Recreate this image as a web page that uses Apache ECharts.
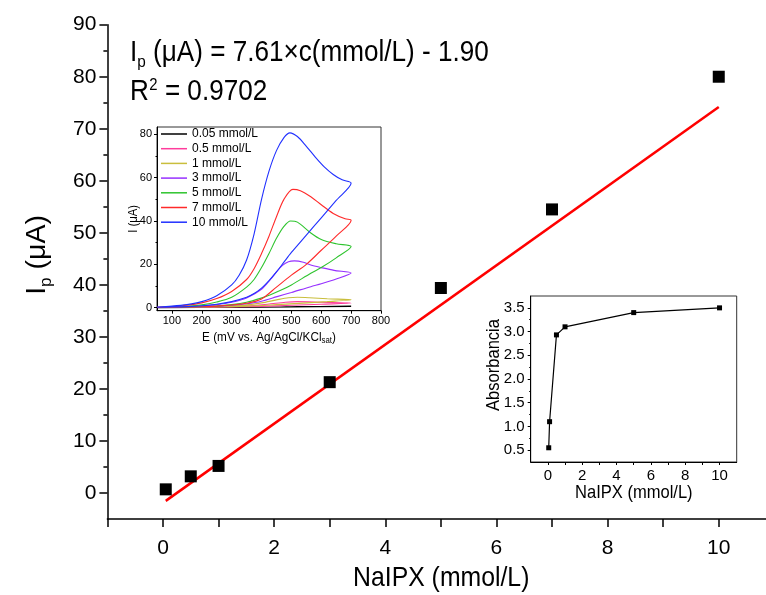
<!DOCTYPE html>
<html><head><meta charset="utf-8">
<script src="https://cdn.jsdelivr.net/npm/echarts@6/dist/echarts.min.js"></script>
<style>html,body{margin:0;padding:0;background:#fff}#c{width:766px;height:595px}</style>
</head><body><div id="c"></div>
<script>
// ---- main calibration data ----
const concentrations = [0.05, 0.5, 1, 3, 5, 7, 10];
const peakCurrents = [0.7, 3.2, 5.2, 21.3, 39.4, 54.5, 80.0];
const fitX = [0.05, 10];
const fitY = [-1.52, 74.2];
const mainXTicks = [-1, 0, 1, 2, 3, 4, 5, 6, 7, 8, 9, 10];
const mainXLabels = [0, 2, 4, 6, 8, 10];
const mainYLabels = [0, 10, 20, 30, 40, 50, 60, 70, 80, 90];
const mainYMinor = [5, 15, 25, 35, 45, 55, 65, 75, 85];

// ---- inset: cyclic voltammograms [E (mV), I (uA)] ----
const cvNames = ['0.05 mmol/L', '0.5 mmol/L', '1 mmol/L', '3 mmol/L', '5 mmol/L', '7 mmol/L', '10 mmol/L'];
const cvColors = ['#000000', '#ff3c9c', '#c9be3c', '#9630ff', '#2ec42e', '#ff2a2a', '#2030ff'];
const cv005 = [[50,0],[300,0.1],[450,0.3],[520,0.5],[700,0.6],[500,0.35],[300,0.1],[50,0]];
const cv05 = [[50,0.05],[200,0.2],[350,0.8],[420,1.6],[480,2.5],[520,2.8],[600,2.5],[700,2.1],
  [600,1.6],[500,1.1],[400,0.6],[300,0.3],[150,0.1],[50,0.05]];
const cv1 = [[50,0.05],[150,0.2],[250,0.5],[350,1.3],[400,2.2],[450,3.6],[490,4.6],[520,4.8],[560,4.6],[620,4.1],[700,3.6],
  [620,2.8],[540,2.1],[450,1.4],[350,0.7],[250,0.3],[150,0.15],[50,0.05]];
const cv3 = [[50,0.1],[100,0.2],[150,0.4],[200,0.8],[250,1.4],[300,2.5],[350,4.5],[400,8.5],[430,13],[450,16.5],[470,19.5],
  [490,21.2],[510,21.6],[540,21],[565,19.7],[600,18.5],[643,17.2],[700,16],
  [650,13.2],[600,11],[565,9.7],[500,7],[452,5.1],[400,3],[350,1.8],[300,1.1],[250,0.6],[200,0.35],[100,0.15],[50,0.1]];
const cv5 = [[50,0.1],[100,0.3],[150,0.6],[200,1.3],[250,2.6],[300,4.8],[350,9.5],[375,13],[400,18.5],[425,25],[450,32],
  [475,37.5],[497,40],[520,39.5],[565,34.5],[600,31.5],[650,29.5],[700,28.2],
  [650,23],[600,18.5],[565,15.9],[500,10.5],[464,8],[430,6],[396,4.3],[350,2.5],[300,1.4],[250,0.8],[200,0.4],[100,0.2],[50,0.1]];
const cv7 = [[50,0.2],[100,0.5],[150,1.1],[200,2.2],[250,4.2],[300,7.5],[350,13],[375,18],[400,25],[425,33],[450,42],
  [475,50],[505,54.6],[530,54],[565,51.2],[600,47.5],[640,43.5],[680,41],[700,40.4],
  [650,33],[600,26.5],[550,20],[500,15],[450,9.5],[400,4],[350,2],[300,1.2],[250,0.7],[200,0.4],[150,0.3],[50,0.1]];
const cv10 = [[50,0.3],[100,0.7],[150,1.4],[200,2.8],[250,5.5],[300,10.5],[325,15],[350,22],[375,34],[400,50],[425,63],
  [450,72.5],[475,78.5],[495,80.7],[520,79],[550,74.5],[580,69.5],[610,65],[640,61.5],[670,59],[700,57.5],
  [650,49.5],[600,41.5],[550,33.5],[500,25.5],[475,21],[450,16.5],[425,12.5],[400,9],[375,6.5],[350,4.8],[300,2.8],
  [250,1.6],[200,0.9],[150,0.5],[100,0.3],[50,0.2]];
const cvData = [cv005, cv05, cv1, cv3, cv5, cv7, cv10];
const cvXLabels = [100, 200, 300, 400, 500, 600, 700, 800];
const cvYLabels = [0, 20, 40, 60, 80];
const cvYMinor = [10, 30, 50, 70];

// ---- inset: absorbance ----
const absConc = [0.05, 0.1, 0.5, 1, 5, 10];
const absValues = [0.55, 1.1, 2.93, 3.1, 3.4, 3.5];
const absXTicks = [0, 1, 2, 3, 4, 5, 6, 7, 8, 9, 10];
const absXLabels = [0, 2, 4, 6, 8, 10];
const absYLabels = [0.5, 1.0, 1.5, 2.0, 2.5, 3.0, 3.5];
const absYMinor = [0.75, 1.25, 1.75, 2.25, 2.75, 3.25];

const F = "'Liberation Sans', Arial, sans-serif";
const SX = 0.87;

function txt(x, y, text, size, extra) {
  return Object.assign({ type: 'text', x: x, y: y,
    style: { text: text, fontSize: size, fontFamily: F, fill: '#000', align: 'left', verticalAlign: 'middle' } }, extra || {});
}

const chart = echarts.init(document.getElementById('c'), null, { renderer: 'canvas' });

const axisBase = (w) => ({ axisLine: { onZero: false, lineStyle: { color: '#000', width: w } }, splitLine: { show: false } });

const option = {
  animation: false,
  backgroundColor: '#fff',
  grid: [
    { left: 107.4, top: 24.7, right: 0, height: 494.3 },
    { left: 157, top: 127, width: 224, height: 183.7, show: true, borderColor: '#333', borderWidth: 1 },
    { left: 530.7, top: 296, width: 206, height: 166, show: true, borderColor: '#333', borderWidth: 1 }
  ],
  legend: {
    data: cvNames.map(n => ({ name: n, icon: 'rect' })), orient: 'vertical', left: 161, top: 128, padding: 0,
    itemWidth: 26, itemHeight: 1.5, itemGap: 2.7,
    textStyle: { fontSize: 12, fontFamily: F, color: '#000', padding: [0, 0, 0, 0] }
  },
  xAxis: [
    Object.assign(axisBase(1.5), { gridIndex: 0, type: 'value', min: -1, max: 10.85,
      axisTick: { customValues: mainXTicks, length: 8, lineStyle: { color: '#000', width: 1.5 } },
      axisLabel: { customValues: mainXLabels, fontSize: 21, fontFamily: F, color: '#000', margin: 19 } }),
    Object.assign(axisBase(1), { gridIndex: 1, type: 'value', min: 50, max: 800,
      axisTick: { customValues: cvXLabels, length: 3, lineStyle: { color: '#000' } },
      axisLabel: { customValues: cvXLabels, fontSize: 11, fontFamily: F, color: '#000', margin: 5 } }),
    Object.assign(axisBase(1), { gridIndex: 2, type: 'value', min: -1, max: 11,
      axisTick: { customValues: absXTicks, length: 3, lineStyle: { color: '#000' } },
      axisLabel: { customValues: absXLabels, fontSize: 15, fontFamily: F, color: '#000', margin: 6 } })
  ],
  yAxis: [
    Object.assign(axisBase(1.5), { gridIndex: 0, type: 'value', min: -5, max: 90,
      axisTick: { customValues: mainYLabels, length: 8, lineStyle: { color: '#000', width: 1.5 } },
      axisLabel: { customValues: mainYLabels, fontSize: 21, fontFamily: F, color: '#000', margin: 11 } }),
    { gridIndex: 0, type: 'value', min: -5, max: 90, position: 'left', splitLine: { show: false },
      axisLine: { show: false, onZero: false }, axisLabel: { show: false },
      axisTick: { customValues: mainYMinor, length: 4, lineStyle: { color: '#000', width: 1.5 } } },
    Object.assign(axisBase(1), { gridIndex: 1, type: 'value', min: -1.4, max: 83.4,
      axisTick: { customValues: cvYLabels, length: 3, lineStyle: { color: '#000' } },
      axisLabel: { customValues: cvYLabels, fontSize: 11, fontFamily: F, color: '#000', margin: 5 } }),
    { gridIndex: 1, type: 'value', min: -1.4, max: 83.4, position: 'left', splitLine: { show: false },
      axisLine: { show: false, onZero: false }, axisLabel: { show: false },
      axisTick: { customValues: cvYMinor, length: 1.5, lineStyle: { color: '#000' } } },
    Object.assign(axisBase(1), { gridIndex: 2, type: 'value', min: 0.25, max: 3.75,
      axisTick: { customValues: absYLabels, length: 3, lineStyle: { color: '#000' } },
      axisLabel: { customValues: absYLabels, fontSize: 15, fontFamily: F, color: '#000', margin: 6,
        formatter: v => Number(v).toFixed(1) } }),
    { gridIndex: 2, type: 'value', min: 0.25, max: 3.75, position: 'left', splitLine: { show: false },
      axisLine: { show: false, onZero: false }, axisLabel: { show: false },
      axisTick: { customValues: absYMinor, length: 1.5, lineStyle: { color: '#000' } } }
  ],
  series: [
    { type: 'line', name: 'fit', xAxisIndex: 0, yAxisIndex: 0, symbol: 'none', silent: true,
      data: fitX.map((x, i) => [x, fitY[i]]), lineStyle: { color: '#ff0000', width: 2.5 }, z: 3 },
    { type: 'scatter', name: 'Ip', xAxisIndex: 0, yAxisIndex: 0, symbol: 'rect', symbolSize: 12,
      data: concentrations.map((c, i) => [c, peakCurrents[i]]), itemStyle: { color: '#000', opacity: 1 }, z: 4 },
    ...cvData.map((d, i) => ({
      type: 'line', name: cvNames[i], xAxisIndex: 1, yAxisIndex: 2, data: d, symbol: 'none', smooth: 0.3,
      color: cvColors[i], itemStyle: { color: cvColors[i] },
      lineStyle: { color: cvColors[i], width: 1.1 }, z: 2 + i * 0.01
    })),
    { type: 'line', name: 'abs', xAxisIndex: 2, yAxisIndex: 4, symbol: 'rect', symbolSize: 5,
      data: absConc.map((c, i) => [c, absValues[i]]), itemStyle: { color: '#000', opacity: 1 },
      lineStyle: { color: '#000', width: 1.2 } }
  ],
  graphic: [
    // equation
    { type: 'group', x: 130, y: 53, scaleX: 0.9, children: [
      txt(0, 0, 'I', 29), txt(8.1, 9, 'p', 17), txt(17.6, 0, ' (\u03bcA) = 7.61\u00d7c(mmol/L) - 1.90', 29) ] },
    { type: 'group', x: 130, y: 92, scaleX: 0.9, children: [
      txt(0, 0, 'R', 29), txt(21.5, -6.2, '2', 16.5), txt(30.7, 0, ' = 0.9702', 29) ] },
    // main axis titles
    { type: 'group', x: 440, y: 578, scaleX: SX, children: [
      txt(-7.012 * 28.5 / 2, 0, 'NaIPX (mmol/L)', 28.5) ] },
    { type: 'group', x: 37, y: 255, rotation: Math.PI / 2, scaleX: 1, children: [
      txt(-39.8, 0, 'I', 28.5), txt(-31.9, 9, 'p', 17), txt(-22.4, 0, ' (\u03bcA)', 28.5) ] },
    // CV inset titles
    { type: 'group', x: 133, y: 218, rotation: Math.PI / 2, scaleX: SX, children: [
      txt(-17, 0, 'I (\u03bcA)', 13) ] },
    { type: 'group', x: 269, y: 337, scaleX: SX, children: [
      txt(-76.9, 0, 'E (mV vs. Ag/AgCl/KCl', 13.5), txt(60.4, 4, 'sat', 9), txt(72.4, 0, ')', 13.5) ] },
    // absorbance inset titles
    { type: 'group', x: 494, y: 365, rotation: Math.PI / 2, scaleX: SX, children: [
      txt(-52.8, 0, 'Absorbancia', 19) ] },
    { type: 'group', x: 633, y: 493, scaleX: SX, children: [
      txt(-66.6, 0, 'NaIPX (mmol/L)', 19) ] }
  ]
};
chart.setOption(option);
</script></body></html>
